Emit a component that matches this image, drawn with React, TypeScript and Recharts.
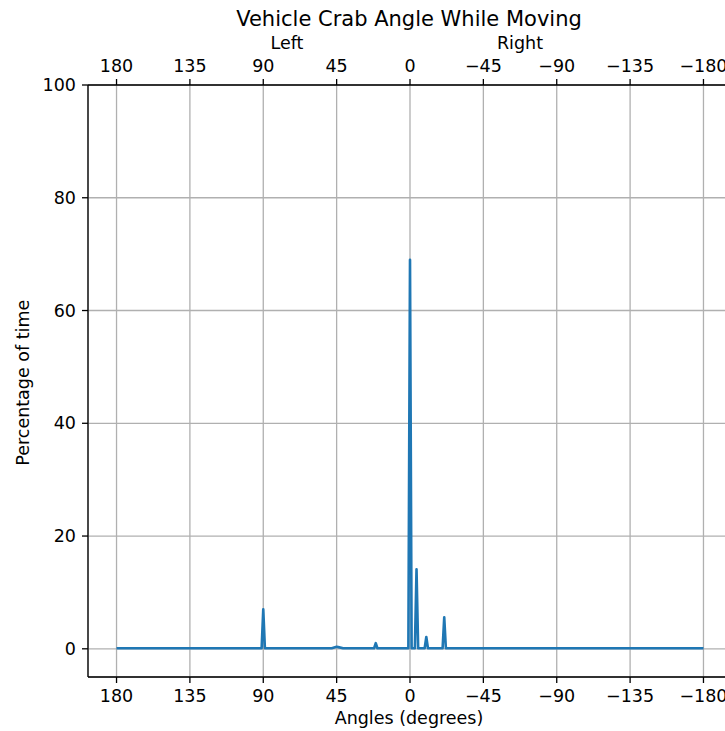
import React from "react";
import { LineChart, Line, XAxis, YAxis, CartesianGrid } from "recharts";

const angles = [180, 91, 90, 89, 48, 45, 44, 41, 22, 21, 20, 1, 0, -1, -3, -4, -5, -9, -10, -11, -20, -21, -22, -180];
const percentages = [0.1, 0.1, 7.0, 0.1, 0.1, 0.35, 0.3, 0.1, 0.1, 1.0, 0.1, 0.1, 69.0, 0.1, 0.1, 14.1, 0.1, 0.1, 2.1, 0.1, 0.1, 5.6, 0.1, 0.1];
const angleTicks = [180, 135, 90, 45, 0, -45, -90, -135, -180];
const percentTicks = [0, 20, 40, 60, 80, 100];

const data = angles.map((a, i) => ({ angle: a, pct: percentages[i] }));

const FONT = "'DejaVu Sans', sans-serif";
const fmt = (v: number) => String(v).replace("-", "\u2212");
const tickStyle = { fontFamily: FONT, fontSize: 17.5, fill: "#000" };
const axisLine = { stroke: "#000", strokeWidth: 1.3 };
const tickLine = { stroke: "#000", strokeWidth: 1.3 };

export default function App() {
  return (
    <div
      style={{
        position: "absolute",
        left: 0,
        top: 0,
        width: 725,
        height: 731,
        overflow: "hidden",
        background: "#fff",
        fontFamily: FONT,
        color: "#000",
      }}
    >
      <LineChart
        width={732}
        height={731}
        data={data}
        margin={{ top: 0, right: 0, bottom: 0, left: 0 }}
      >
        <CartesianGrid stroke="#b0b0b0" strokeWidth={1.3} xAxisId="bottom" yAxisId="y" />
        <XAxis
          xAxisId="bottom"
          dataKey="angle"
          type="number"
          domain={[-197.5, 197.5]}
          reversed
          ticks={angleTicks}
          tickFormatter={fmt}
          orientation="bottom"
          height={54}
          tickSize={6}
          tickMargin={7}
          axisLine={axisLine}
          tickLine={tickLine}
          tick={tickStyle}
          allowDataOverflow
        />
        <XAxis
          xAxisId="top"
          dataKey="angle"
          type="number"
          domain={[-197.5, 197.5]}
          reversed
          ticks={angleTicks}
          tickFormatter={fmt}
          orientation="top"
          height={85}
          tickSize={6}
          tickMargin={7}
          axisLine={axisLine}
          tickLine={tickLine}
          tick={tickStyle}
          allowDataOverflow
        />
        <YAxis
          yAxisId="y"
          type="number"
          domain={[-5, 100]}
          ticks={percentTicks}
          width={88}
          tickSize={6}
          tickMargin={6}
          axisLine={axisLine}
          tickLine={tickLine}
          tick={tickStyle}
          allowDataOverflow
        />
        <Line
          xAxisId="bottom"
          yAxisId="y"
          dataKey="pct"
          type="linear"
          stroke="#1f77b4"
          strokeWidth={2.6}
          strokeLinejoin="round"
          strokeLinecap="butt"
          dot={false}
          isAnimationActive={false}
        />
      </LineChart>
      <div style={{ position: "absolute", left: 9, width: 800, top: 9, textAlign: "center", fontSize: 21, lineHeight: "21px", whiteSpace: "nowrap" }}>
        Vehicle Crab Angle While Moving
      </div>
      <div style={{ position: "absolute", left: 287 - 50, width: 100, top: 35, textAlign: "center", fontSize: 17.5, lineHeight: "17.5px" }}>
        Left
      </div>
      <div style={{ position: "absolute", left: 520 - 50, width: 100, top: 35, textAlign: "center", fontSize: 17.5, lineHeight: "17.5px" }}>
        Right
      </div>
      <div style={{ position: "absolute", left: 409 - 150, width: 300, top: 709.5, textAlign: "center", fontSize: 17.5, lineHeight: "17.5px", whiteSpace: "nowrap" }}>
        Angles (degrees)
      </div>
      <div
        style={{
          position: "absolute",
          left: 23.7 - 150,
          top: 383 - 8.75,
          width: 300,
          textAlign: "center",
          fontSize: 17.5,
          lineHeight: "17.5px",
          transform: "rotate(-90deg)",
          whiteSpace: "nowrap",
        }}
      >
        Percentage of time
      </div>
    </div>
  );
}
